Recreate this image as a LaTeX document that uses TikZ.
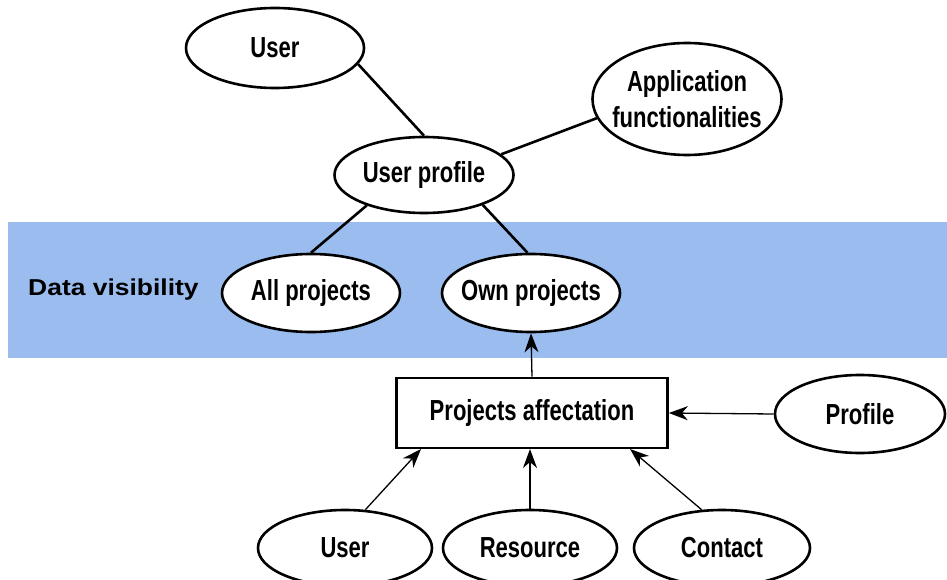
\documentclass[tikz,border=0pt]{standalone}
\usepackage{fontspec}
\setmainfont{Liberation Sans}
\newfontfamily\narrowbold[FakeStretch=0.76]{Liberation Sans Bold}
\newfontfamily\widebold[FakeStretch=1.15]{Liberation Sans Bold}
\newcommand{\zw}[1]{\makebox[0pt]{#1}}
\usetikzlibrary{arrows.meta,shapes.geometric}
\begin{document}
\begin{tikzpicture}[x=1pt,y=-1pt,
  ell/.style={draw=black,line width=2.6pt,fill=white,ellipse,inner sep=0pt,
    font=\narrowbold\fontsize{29}{32}\selectfont,align=center},
  link/.style={line width=2.6pt},
  arr/.style={line width=1.3pt,-{Stealth[length=19pt,width=14pt,inset=6pt]}},
  lbl/.style={font=\widebold\fontsize{23}{26}\selectfont}]
\useasboundingbox (0,0) rectangle (947,580);
\fill[fill={rgb,255:red,154;green,188;blue,238}] (8,222) rectangle (947,358);
\node[lbl,anchor=west,inner sep=0pt] (dv) at (28,290) {Data visibility};
\node[ell,minimum width=178pt,minimum height=80pt] (user) at (275,48) {\zw{User}};
\node[ell,minimum width=189pt,minimum height=112pt] (app) at (687,99) {\zw{Application}\\[4pt]\zw{functionalities}};
\node[ell,minimum width=179pt,minimum height=76pt] (up) at (424,175) {\zw{User profile}};
\node[ell,minimum width=178pt,minimum height=78pt] (all) at (311,293) {\zw{All projects}};
\node[ell,minimum width=178pt,minimum height=78pt] (own) at (531,293) {\zw{Own projects}};
\node[draw=black,line width=2.6pt,fill=white,minimum width=271pt,minimum height=70pt,
  font=\narrowbold\fontsize{29}{32}\selectfont] (pa) at (532,413) {Projects affectation};
\node[ell,minimum width=170pt,minimum height=78pt] (prof) at (860,414) {\zw{Profile}};
\node[ell,minimum width=174pt,minimum height=76pt] (ub) at (345,548) {\zw{User}};
\node[ell,minimum width=174pt,minimum height=76pt] (res) at (530,548) {\zw{Resource}};
\node[ell,minimum width=176pt,minimum height=76pt] (con) at (722,548) {\zw{Contact}};
\coordinate (pa1) at (421,449);
\coordinate (pa2) at (530,449);
\coordinate (pa3) at (630,449);
\draw[link] (user.-11) -- (up.north);
\draw[link] (up.15) -- (app.192);
\draw[link] (up.-152) -- (all.90);
\draw[link] (up.-27) -- (own.95);
\draw[arr] (pa.north) -- (own.south);
\draw[arr] (prof.west) -- (pa.east);
\draw[arr] (ub.62) -- (pa1);
\draw[arr] (res.north) -- (pa2);
\draw[arr] (con.118) -- (pa3);
\end{tikzpicture}
\end{document}
